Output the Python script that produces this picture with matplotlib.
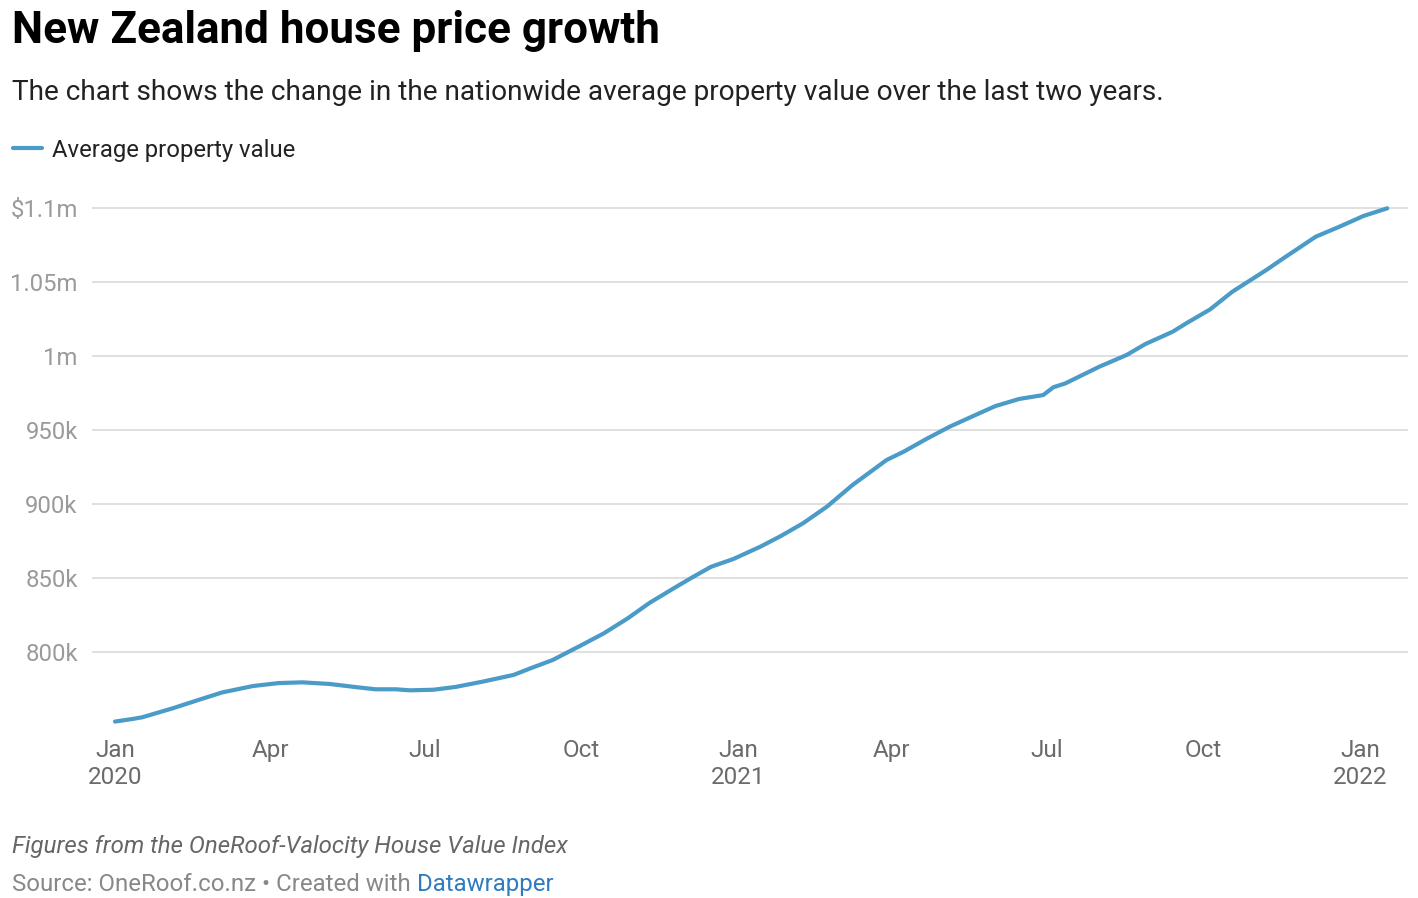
import matplotlib
matplotlib.use("Agg")
import matplotlib.pyplot as plt
import matplotlib.dates as mdates
import numpy as np
import pandas as pd

# ---- data ----
dates = [
    "2020-01-01", "2020-01-11", "2020-01-17", "2020-02-04", "2020-02-19", "2020-03-04",
    "2020-03-22", "2020-04-06", "2020-04-20", "2020-05-06", "2020-05-22", "2020-06-02",
    "2020-06-14", "2020-06-22", "2020-07-06", "2020-07-19", "2020-08-04", "2020-08-22",
    "2020-09-01", "2020-09-14", "2020-10-01", "2020-10-14", "2020-10-28", "2020-11-10",
    "2020-11-24", "2020-12-04", "2020-12-16", "2020-12-29", "2021-01-14", "2021-01-26",
    "2021-02-08", "2021-02-22", "2021-03-09", "2021-03-29", "2021-04-08", "2021-04-21",
    "2021-05-05", "2021-05-19", "2021-06-01", "2021-06-15", "2021-06-29", "2021-07-05",
    "2021-07-12", "2021-08-01", "2021-08-17", "2021-08-28", "2021-09-13", "2021-09-21",
    "2021-10-05", "2021-10-18", "2021-11-07", "2021-11-17", "2021-12-06", "2021-12-20",
    "2022-01-03", "2022-01-17",
]
values_k = [
    753.0, 754.7, 755.9, 762.0, 767.6, 772.7,
    777.0, 779.0, 779.5, 778.4, 776.2, 774.8,
    774.8, 774.1, 774.5, 776.4, 780.0, 784.5,
    789.0, 794.6, 804.7, 812.6, 822.7, 833.3,
    843.0, 849.8, 857.6, 862.8, 871.2, 878.4,
    887.0, 898.2, 912.8, 929.7, 935.3, 943.7,
    952.2, 959.5, 966.2, 971.0, 973.6, 978.9,
    981.5, 992.8, 1000.7, 1008.1, 1016.4, 1022.1,
    1031.5, 1043.4, 1058.1, 1066.0, 1080.6, 1087.4,
    1094.6, 1099.8,
]
series_name = "Average property value"
y_ticks = [800, 850, 900, 950, 1000, 1050, 1100]
y_tick_labels = ["800k", "850k", "900k", "950k", "1m", "1.05m", "$1.1m"]
x_ticks = ["2020-01-01", "2020-04-01", "2020-07-01", "2020-10-01", "2021-01-01",
           "2021-04-01", "2021-07-01", "2021-10-01", "2022-01-01"]
x_tick_labels = ["Jan\n2020", "Apr", "Jul", "Oct", "Jan\n2021", "Apr", "Jul", "Oct", "Jan\n2022"]

title = "New Zealand house price growth"
subtitle = "The chart shows the change in the nationwide average property value over the last two years."
note = "Figures from the OneRoof-Valocity House Value Index"
source = "Source: OneRoof.co.nz • Created with "
credit = "Datawrapper"

# ---- style ----
FONT = ["Roboto", "DejaVu Sans"]
plt.rcParams["font.family"] = FONT
LINE_C = "#4a9bc8"
W, H = 1418, 898
fig = plt.figure(figsize=(W / 100, H / 100), dpi=100)
fig.patch.set_facecolor("white")

def fx(px):
    return px / W

def fy(py):
    return 1 - py / H

ax_l, ax_r, ax_t, ax_b = 92, 1408, 200, 730
ax = fig.add_axes([fx(ax_l), fy(ax_b), fx(ax_r - ax_l), (ax_b - ax_t) / H])

d = pd.to_datetime(dates)
ax.plot(d, values_k, color=LINE_C, lw=3.0, solid_capstyle="round", solid_joinstyle="round",
        clip_on=False, zorder=3)

# limits
x0 = mdates.date2num(pd.Timestamp("2020-01-01"))
x1 = mdates.date2num(pd.Timestamp("2022-01-01"))
ppd = (1360 - 115) / (x1 - x0)
ax.set_xlim(x0 - (115 - ax_l) / ppd, x1 + (ax_r - 1360) / ppd)
ppk = 74 / 50.0
ax.set_ylim(1100 - (ax_b - 208) / ppk, 1100 + (208 - ax_t) / ppk)

ax.set_yticks(y_ticks)
ax.set_yticklabels(y_tick_labels)
ax.set_xticks(pd.to_datetime(x_ticks))
ax.set_xticklabels(x_tick_labels, linespacing=1.22)

for s in ax.spines.values():
    s.set_visible(False)
ax.grid(axis="y", color="#e0e0e0", lw=1.4)
ax.set_axisbelow(True)
ax.tick_params(axis="y", length=0, pad=10.2, labelsize=17.2, labelcolor="#9a9a9a")
ax.tick_params(axis="x", length=0, pad=6.5, labelsize=17.5, labelcolor="#6b6b6b")

# ---- text ----
fig.text(fx(12), fy(43), title, fontsize=31.7, fontweight="bold", color="#000000", va="baseline")
fig.text(fx(12), fy(100), subtitle, fontsize=20.2, color="#222222", va="baseline")

fig.add_artist(plt.Line2D([fx(13), fx(42)], [fy(148), fy(148)], color=LINE_C, lw=3,
                          solid_capstyle="round", transform=fig.transFigure))
fig.text(fx(52), fy(157), series_name, fontsize=17.2, color="#222222", va="baseline")

fig.text(fx(12), fy(853), note, fontsize=17.3, style="italic", color="#666666", va="baseline")
t_src = fig.text(fx(12), fy(891), source, fontsize=17.3, color="#888888", va="baseline")
ax.annotate(credit, xy=(1, 0), xycoords=t_src, va="bottom", ha="left",
            fontsize=17.3, color="#2f7bbf", annotation_clip=False)

fig.savefig("out.png", dpi=100, facecolor="white")
